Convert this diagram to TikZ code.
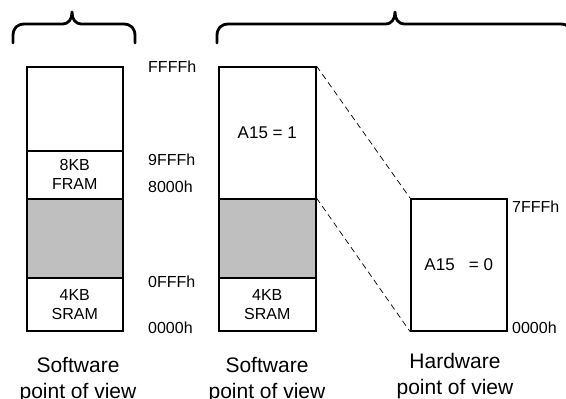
\documentclass[tikz,border=0pt]{standalone}
\usepackage{fontspec}
\setmainfont{Liberation Sans}
\begin{document}
\begin{tikzpicture}[x=1pt,y=-1pt,
  mem/.style={draw, line width=1.5pt, inner sep=0pt, anchor=north west, minimum width=96pt, align=center, font=\fontsize{16}{19}\selectfont},
  grey/.style={mem, fill=black!25},
  addr/.style={anchor=west, inner sep=0pt, font=\fontsize{16}{19}\selectfont},
  captext/.style={align=center, inner sep=0pt, font=\fontsize{21}{26}\selectfont},
  brace/.style={line width=2.8pt, line cap=round, line join=round},
  conn/.style={line width=0.7pt, dash pattern=on 6pt off 4pt}]
\useasboundingbox (0,0) rectangle (566,399);
% left column
\node[mem, minimum height=84pt] (ltop) at (26,66) {};
\node[mem, minimum height=48pt] (lfram) at (26,150) {8KB\\FRAM};
\node[grey, minimum height=79pt] (lgap) at (26,198) {};
\node[mem, minimum height=53pt] (lsram) at (26,277) {4KB\\SRAM};
% middle column
\node[mem, minimum width=97pt, minimum height=132pt, font=\fontsize{17}{20}\selectfont] (mtop) at (218,66) {A15 = 1};
\node[grey, minimum width=97pt, minimum height=79pt] (mgap) at (218,198) {};
\node[mem, minimum width=97pt, minimum height=53pt] (msram) at (218,277) {4KB\\SRAM};
% right column
\node[mem, minimum height=132pt, font=\fontsize{17}{20}\selectfont] (rbox) at (410,198) {A15\ \ \ = 0};
% address labels
\node[addr] (aF) at (148,67) {FFFFh};
\node[addr] (a9) at (148,160) {9FFFh};
\node[addr] (a8) at (148,187) {8000h};
\node[addr] (a0F) at (148,282) {0FFFh};
\node[addr] (a00) at (148,328) {0000h};
\node[addr] (a7) at (512,207) {7FFFh};
\node[addr] (b00) at (512,328) {0000h};
% dashed connectors
\draw[conn] (mtop.north east) -- (rbox.north west);
\draw[conn] (mgap.north east) -- (rbox.south west);
% braces
\draw[brace] (13,43) -- (13,36) .. controls (13,28) and (17,24) .. (25,24) -- (62,24)
  .. controls (69,24) and (72,19) .. (72,12) .. controls (72,19) and (75,24) .. (82,24)
  -- (123,24) .. controls (131,24) and (135,28) .. (135,36) -- (135,43);
\draw[brace] (217,43) -- (217,36) .. controls (217,28) and (221,24) .. (229,24) -- (385,24)
  .. controls (392,24) and (395,19) .. (395,12) .. controls (395,19) and (398,24) .. (405,24)
  -- (560,24) .. controls (568,24) and (572,28) .. (572,36) -- (572,43);
% captions
\node[captext] (c1) at (78,380) {Software\\point of view};
\node[captext] (c2) at (267,380) {Software\\point of view};
\node[captext] (c3) at (455,376) {Hardware\\point of view};
\end{tikzpicture}
\end{document}
